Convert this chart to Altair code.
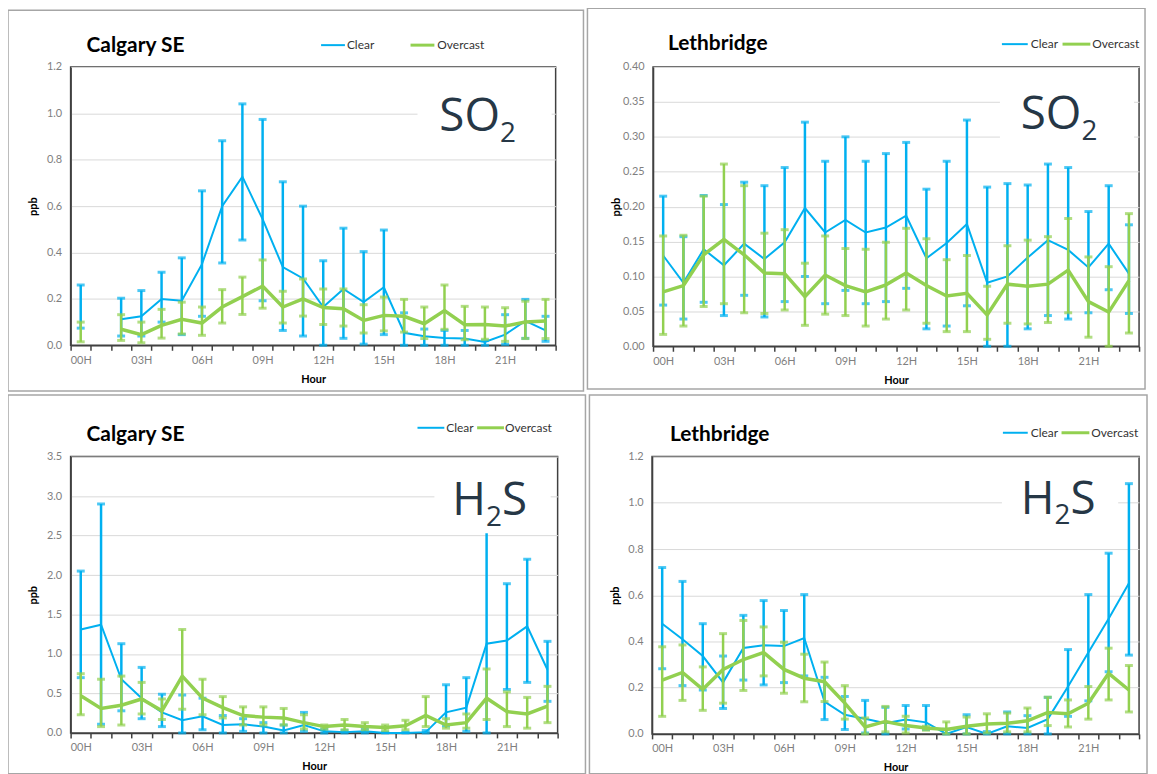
import altair as alt
import pandas as pd

HOURS = list(range(24))
BLUE = "#00b0f0"
GREEN = "#92d050"
FONT = "Lato"

# ---- Calgary SE, SO2 ----
cal_so2_clear_mean = [0.17, None, 0.112, 0.125, 0.2, 0.192, 0.35, 0.6, 0.727, 0.544, 0.337, 0.288,
                      0.165, 0.243, 0.186, 0.25, 0.054, 0.039, 0.031, 0.029, 0.014, 0.046, 0.105, 0.064]
cal_so2_clear_lo = [0.074, None, 0.04, 0.04, 0.1, 0.046, 0.125, 0.355, 0.454, 0.192, 0.064, 0.04,
                    0.0, 0.03, 0.005, 0.046, 0.0, 0.0, 0.0, 0.0, 0.0, 0.004, 0.03, 0.017]
cal_so2_clear_hi = [0.26, None, 0.203, 0.236, 0.315, 0.377, 0.666, 0.882, 1.041, 0.974, 0.705, 0.6,
                    0.365, 0.505, 0.404, 0.497, 0.14, 0.07, 0.064, 0.064, 0.02, 0.132, 0.198, 0.125]
cal_so2_over_mean = [0.06, None, 0.069, 0.046, 0.086, 0.112, 0.096, 0.165, 0.21, 0.255, 0.165, 0.2,
                     0.163, 0.158, 0.107, 0.129, 0.125, 0.093, 0.15, 0.089, 0.09, 0.083, 0.1, 0.105]
cal_so2_over_lo = [0.015, None, 0.021, 0.011, 0.031, 0.049, 0.043, 0.096, 0.133, 0.16, 0.096, 0.126,
                   0.09, 0.083, 0.053, 0.062, 0.057, 0.029, 0.069, 0.024, 0.026, 0.017, 0.029, 0.029]
cal_so2_over_hi = [0.1, None, 0.132, 0.1, 0.155, 0.186, 0.165, 0.24, 0.294, 0.368, 0.233, 0.286,
                   0.243, 0.243, 0.175, 0.208, 0.198, 0.165, 0.26, 0.168, 0.165, 0.162, 0.19, 0.198]

# ---- Lethbridge, SO2 ----
let_so2_clear_mean = [0.13, 0.091, 0.139, 0.116, 0.147, 0.125, 0.149, 0.198, 0.163, 0.181, 0.163, 0.17,
                      0.187, 0.126, 0.148, 0.175, 0.091, 0.1, 0.127, 0.152, 0.138, 0.113, 0.147, 0.104]
let_so2_clear_lo = [0.059, 0.039, 0.063, 0.044, 0.073, 0.042, 0.064, 0.1, 0.061, 0.08, 0.061, 0.064,
                    0.083, 0.025, 0.029, 0.058, 0.0, 0.0, 0.025, 0.044, 0.039, 0.048, 0.081, 0.047]
let_so2_clear_hi = [0.215, 0.157, 0.216, 0.203, 0.235, 0.23, 0.256, 0.321, 0.265, 0.3, 0.265, 0.276,
                    0.292, 0.225, 0.265, 0.324, 0.228, 0.233, 0.231, 0.261, 0.256, 0.193, 0.23, 0.174]
let_so2_over_mean = [0.078, 0.087, 0.131, 0.153, 0.131, 0.105, 0.104, 0.071, 0.102, 0.087, 0.078, 0.088,
                     0.105, 0.087, 0.072, 0.076, 0.045, 0.089, 0.086, 0.089, 0.109, 0.064, 0.049, 0.094]
let_so2_over_lo = [0.017, 0.029, 0.057, 0.061, 0.048, 0.047, 0.052, 0.03, 0.046, 0.044, 0.029, 0.039,
                   0.052, 0.033, 0.021, 0.021, 0.01, 0.033, 0.032, 0.034, 0.048, 0.013, 0.0, 0.019]
let_so2_over_hi = [0.158, 0.159, 0.215, 0.261, 0.23, 0.162, 0.167, 0.119, 0.158, 0.14, 0.139, 0.149,
                   0.169, 0.154, 0.124, 0.13, 0.086, 0.144, 0.152, 0.157, 0.183, 0.128, 0.114, 0.19]

# ---- Calgary SE, H2S ----
cal_h2s_clear_mean = [1.31, 1.37, 0.68, 0.44, 0.26, 0.16, 0.21, 0.10, 0.11, 0.08, 0.03, 0.10,
                      0.02, 0.01, 0.02, 0.0, 0.0, 0.01, 0.26, 0.32, 1.13, 1.17, 1.35, 0.80]
cal_h2s_clear_lo = [0.70, 0.11, 0.28, 0.18, 0.08, 0.0, 0.04, 0.0, 0.02, 0.0, 0.0, 0.02,
                    0.0, 0.0, 0.0, 0.0, 0.0, 0.0, 0.09, 0.02, 0.0, 0.55, 0.64, 0.40]
cal_h2s_clear_hi = [2.05, 2.9, 1.13, 0.83, 0.49, 0.48, 0.44, 0.22, 0.18, 0.13, 0.10, 0.26,
                    0.05, 0.03, 0.05, 0.01, 0.01, 0.03, 0.61, 0.70, 2.8, 1.89, 2.2, 1.16]
cal_h2s_over_mean = [0.47, 0.31, 0.35, 0.43, 0.28, 0.72, 0.44, 0.32, 0.22, 0.2, 0.19, 0.13,
                     0.08, 0.1, 0.08, 0.07, 0.09, 0.22, 0.1, 0.13, 0.44, 0.27, 0.24, 0.34]
cal_h2s_over_lo = [0.23, 0.08, 0.1, 0.24, 0.17, 0.3, 0.23, 0.19, 0.1, 0.1, 0.1, 0.05,
                   0.05, 0.04, 0.04, 0.03, 0.04, 0.08, 0.06, 0.06, 0.17, 0.08, 0.06, 0.13]
cal_h2s_over_hi = [0.75, 0.68, 0.72, 0.64, 0.43, 1.31, 0.68, 0.46, 0.33, 0.33, 0.31, 0.23,
                   0.1, 0.17, 0.13, 0.1, 0.16, 0.46, 0.18, 0.24, 0.81, 0.52, 0.45, 0.59]

# ---- Lethbridge, H2S ----
let_h2s_clear_mean = [0.477, 0.41, 0.337, 0.223, 0.372, 0.384, 0.38, 0.415, 0.14, 0.083, 0.066, 0.046,
                      0.062, 0.05, 0.0, 0.03, 0.0, 0.033, 0.026, 0.064, 0.205, 0.352, 0.498, 0.652]
let_h2s_clear_lo = [0.282, 0.209, 0.19, 0.11, 0.233, 0.212, 0.222, 0.251, 0.062, 0.019, 0.004, 0.0,
                    0.021, 0.019, 0.0, 0.0, 0.0, 0.0, 0.0, 0.0, 0.076, 0.143, 0.269, 0.341]
let_h2s_clear_hi = [0.72, 0.66, 0.477, 0.337, 0.513, 0.577, 0.534, 0.603, 0.245, 0.162, 0.145, 0.115,
                    0.123, 0.123, 0.02, 0.083, 0.01, 0.095, 0.079, 0.158, 0.365, 0.603, 0.782, 1.083]
let_h2s_over_mean = [0.233, 0.266, 0.193, 0.279, 0.322, 0.352, 0.279, 0.241, 0.226, 0.133, 0.03, 0.054,
                     0.036, 0.026, 0.019, 0.033, 0.043, 0.046, 0.057, 0.093, 0.087, 0.133, 0.262, 0.19]
let_h2s_over_lo = [0.076, 0.145, 0.102, 0.133, 0.188, 0.251, 0.176, 0.139, 0.14, 0.064, 0.0, 0.009,
                   0.004, 0.016, 0.0, 0.0, 0.004, 0.009, 0.009, 0.036, 0.03, 0.064, 0.147, 0.095]
let_h2s_over_hi = [0.377, 0.385, 0.29, 0.434, 0.491, 0.463, 0.397, 0.345, 0.311, 0.209, 0.069, 0.119,
                   0.076, 0.033, 0.052, 0.073, 0.087, 0.09, 0.112, 0.159, 0.147, 0.205, 0.371, 0.296]

# axis ticks
ticks_cal_so2 = [0.0, 0.2, 0.4, 0.6, 0.8, 1.0, 1.2]
ticks_let_so2 = [0.0, 0.05, 0.10, 0.15, 0.20, 0.25, 0.30, 0.35, 0.40]
ticks_cal_h2s = [0.0, 0.5, 1.0, 1.5, 2.0, 2.5, 3.0, 3.5]
ticks_let_h2s = [0.0, 0.2, 0.4, 0.6, 0.8, 1.0, 1.2]

LABEL_EXPR = ("datum.value % 3 == 0 ? (datum.value < 10 ? '0' + datum.value : '' + datum.value) + 'H' : ''")
FRAME = "#404040"


def frame(mean, lo, hi):
    return pd.DataFrame({"hour": HOURS, "mean": mean, "lo": lo, "hi": hi})


def one(text):
    return pd.DataFrame({"t": [text]})


def panel(station, chem, clear, over, ticks, fmt, w, h, g):
    xenc = alt.X("hour:O", scale=alt.Scale(paddingInner=0, paddingOuter=0),
                 axis=alt.Axis(tickBand="extent", ticks=True, tickColor=FRAME, tickSize=5,
                               tickWidth=1.5, domain=True, domainColor=FRAME, domainWidth=1.5,
                               grid=False, labelAngle=0,
                               labelExpr=LABEL_EXPR, labelColor="#7f7f7f", labelFont=FONT,
                               labelFontSize=11, labelPadding=4, title="Hour", titleFont=FONT,
                               titleFontSize=11, titleFontWeight="bold", titleColor="#000000",
                               titlePadding=8))
    ysc = alt.Scale(domain=[ticks[0], ticks[-1]], nice=False, zero=True)
    yax = alt.Axis(values=ticks, format=fmt, grid=True, gridColor="#d9d9d9", gridWidth=1,
                   ticks=False, domain=True, domainColor=FRAME, domainWidth=1.5,
                   labelColor="#7f7f7f", labelFont=FONT,
                   labelFontSize=11, labelPadding=9, title="ppb", titleFont=FONT,
                   titleFontSize=11, titleFontWeight="bold", titleColor="#000000",
                   titleX=-32, titleY=h / 2)

    dc = frame(*clear)
    do = frame(*over)
    layers = []
    # outer panel box
    layers.append(alt.Chart(one("")).mark_rect(fillOpacity=0, stroke="#a6a6a6", strokeWidth=1.5).encode(
        x=alt.value(g["box"][0]), x2=alt.value(g["box"][1]),
        y=alt.value(g["box"][2]), y2=alt.value(g["box"][3])))
    for df, col, lw in ((dc, BLUE, 2), (do, GREEN, 3.5)):
        base = alt.Chart(df)
        layers.append(base.mark_rule(color=col, strokeWidth=2.5).encode(
            x=xenc, y=alt.Y("lo:Q", scale=ysc, axis=yax), y2="hi:Q"))
        layers.append(base.mark_tick(color=col, size=8, thickness=3).encode(
            x=xenc, y=alt.Y("lo:Q", scale=ysc, axis=yax)))
        layers.append(base.mark_tick(color=col, size=8, thickness=3).encode(
            x=xenc, y=alt.Y("hi:Q", scale=ysc, axis=yax)))
        layers.append(base.mark_line(color=col, strokeWidth=lw, invalid="break-paths-show-domains").encode(
            x=xenc, y=alt.Y("mean:Q", scale=ysc, axis=yax)))
    # white label box
    wr = g["white"]
    layers.append(alt.Chart(one("")).mark_rect(fill="white").encode(
        x=alt.value(wr[0]), x2=alt.value(wr[1]), y=alt.value(wr[2]), y2=alt.value(wr[3])))
    for txt, px, py, size in chem:
        layers.append(alt.Chart(one(txt)).mark_text(
            font="Open Sans", fontSize=size, color="#263746", align="left", baseline="alphabetic").encode(
            text="t:N", x=alt.value(px), y=alt.value(py)))
    # station title
    layers.append(alt.Chart(one(station)).mark_text(
        font=FONT, fontSize=21, fontWeight="bold", color="#000000", align="left",
        baseline="alphabetic").encode(text="t:N", x=alt.value(g["title"][0]), y=alt.value(g["title"][1])))
    # legend
    lg = g["legend"]
    ly = lg["y"]
    for name, col, lw, (x1, x2, tx) in (("Clear", BLUE, 2, lg["clear"]), ("Overcast", GREEN, 3, lg["over"])):
        layers.append(alt.Chart(one(name)).mark_rule(color=col, strokeWidth=lw).encode(
            x=alt.value(x1), x2=alt.value(x2), y=alt.value(ly)))
        layers.append(alt.Chart(one(name)).mark_text(
            font=FONT, fontSize=12, color="#333333", align="left", baseline="middle").encode(
            text="t:N", x=alt.value(tx), y=alt.value(ly)))
    return alt.layer(*layers).properties(width=w, height=h)


p1 = panel("Calgary SE", [("SO", 371, 64, 46), ("2", 432, 75, 28)],
           (cal_so2_clear_mean, cal_so2_clear_lo, cal_so2_clear_hi),
           (cal_so2_over_mean, cal_so2_over_lo, cal_so2_over_hi),
           ticks_cal_so2, ".1f", 488, 280,
           {"box": (-63, 516, -57, 326), "white": (349, 484, 13, 83), "title": (16, -15),
            "legend": {"y": -22, "clear": (252, 276, 278), "over": (342, 366, 369)}})

p2 = panel("Lethbridge", [("SO", 370, 62, 46), ("2", 431, 73, 28)],
           (let_so2_clear_mean, let_so2_clear_lo, let_so2_clear_hi),
           (let_so2_over_mean, let_so2_over_lo, let_so2_over_hi),
           ticks_let_so2, ".2f", 489, 281,
           {"box": (-66, 495, -59, 324), "white": (349, 484, 16, 81), "title": (15, -17),
            "legend": {"y": -23, "clear": (351, 377, 380), "over": (412, 440, 442)}})

p3 = panel("Calgary SE", [("H", 384, 59, 46), ("2", 418, 70, 28), ("S", 434, 59, 46)],
           (cal_h2s_clear_mean, cal_h2s_clear_lo, cal_h2s_clear_hi),
           (cal_h2s_over_mean, cal_h2s_over_lo, cal_h2s_over_hi),
           ticks_cal_h2s, ".1f", 490, 278,
           {"box": (-63, 518, -62, 319), "white": (366, 483, 15, 77), "title": (16, -16),
            "legend": {"y": -29, "clear": (349, 376, 378), "over": (409, 436, 437)}})

p4 = panel("Lethbridge", [("H", 371, 58, 46), ("2", 405, 68, 28), ("S", 421, 58, 46)],
           (let_h2s_clear_mean, let_h2s_clear_lo, let_h2s_clear_hi),
           (let_h2s_over_mean, let_h2s_over_lo, let_h2s_over_hi),
           ticks_let_h2s, ".1f", 490, 279,
           {"box": (-63, 498, -62, 319), "white": (352, 469, 20, 75), "title": (18, -16),
            "legend": {"y": -24, "clear": (353, 378, 381), "over": (412, 440, 442)}})

row1 = alt.hconcat(p1, p2, spacing=0)
row2 = alt.hconcat(p3, p4, spacing=0)
chart = alt.vconcat(row1, row2, spacing=0).properties(
    padding={"left": -2, "top": -4, "right": 0, "bottom": 0}, background="white"
).configure_view(stroke=FRAME, strokeWidth=1.5)

chart.save("out.html", embed_options={"renderer": "svg", "actions": False})
